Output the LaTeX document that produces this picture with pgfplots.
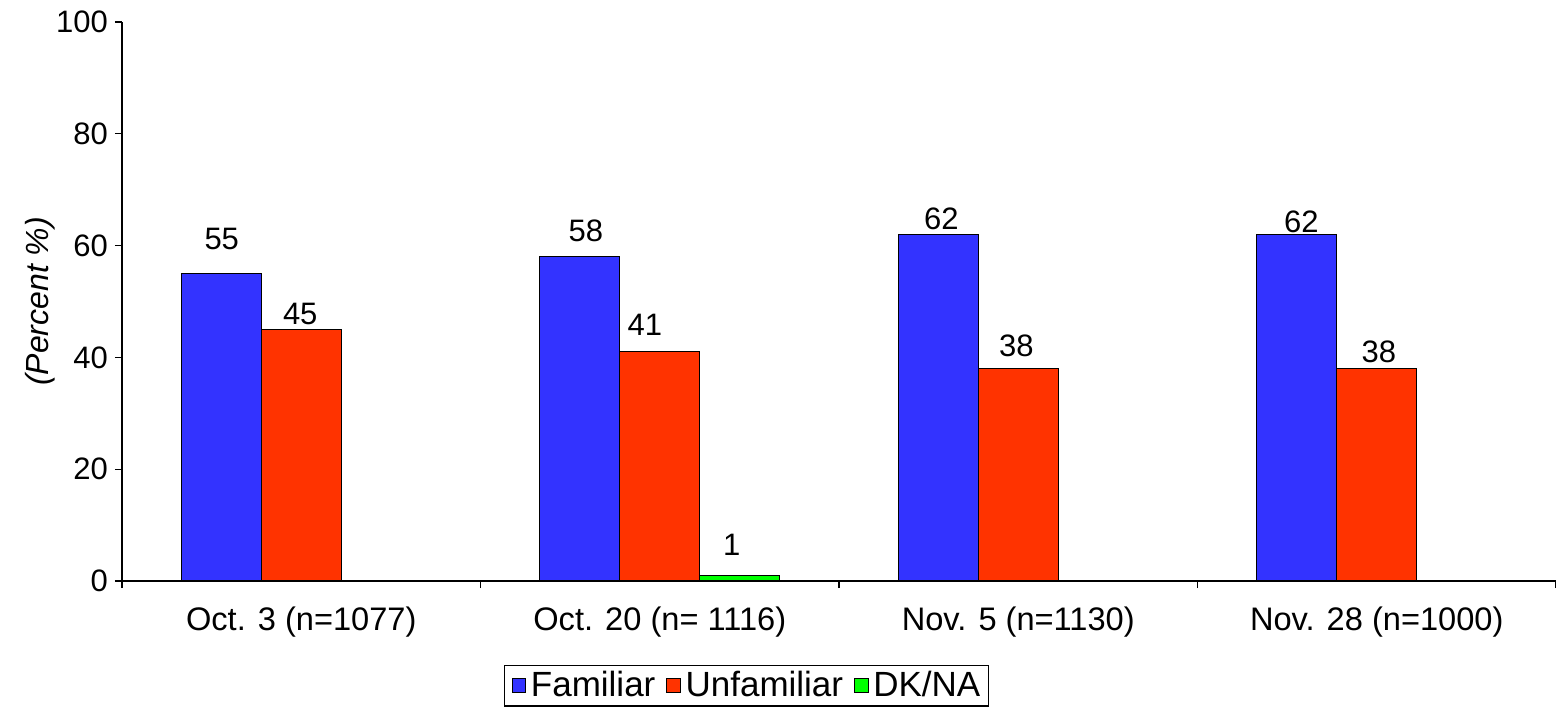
\documentclass[border=0pt]{standalone}
\usepackage{fontspec}
\setmainfont{Liberation Sans}
\usepackage{pgfplots}
\usepackage{pgfplotstable}
\pgfplotsset{compat=1.18}
\pgfkeys{/pgf/number format/assume math mode=true}
\definecolor{cfam}{HTML}{3333FF}
\definecolor{cunf}{HTML}{FF3300}
\definecolor{cdk}{HTML}{00FF00}

\pgfplotstableread{
x y dx dy
0 55 0.25 12
1 58 3 7.5
2 62 1.5 2.5
3 62 2.25 1
}\famtable
\pgfplotstableread{
x y dx dy
0 45 -0.5 2.5
1 41 -7.5 8
2 38 -1 6
3 38 1 3
}\unftable
\pgfplotstableread{
x y dx dy
1 1 -4 10
}\dktable

\begin{document}
\begin{tikzpicture}
\begin{axis}[name=ax, scale only axis, width=717pt, height=279.5pt,
  xmin=-0.5, xmax=3.5, ymin=0, ymax=100,
  axis x line=bottom, axis y line=left,
  axis line style={-, line width=0.6pt},
  every tick/.style={black, line width=0.6pt},
  tick align=outside, major tick length=3.5pt,
  ytick={0,20,...,100},
  xtick={-0.5,0.5,1.5,2.5,3.5},
  xticklabels={Oct. 3 (n=1077), Oct. 20 (n= 1116), Nov. 5 (n=1130), Nov. 28 (n=1000), {}},
  xticklabel style={xshift=89.625pt, yshift=-6pt, font=\fontsize{16.3}{19}\selectfont},
  yticklabel style={font=\fontsize{15.5}{18}\selectfont},
  ylabel={\itshape (Percent \%)},
  ylabel style={at={(axis description cs:-0.0572,0.5)}, anchor=center, font=\fontsize{16}{19}\selectfont},
  ybar, bar width=40pt,
  legend style={at={(axis description cs:0.4355,-0.2245)}, anchor=south, legend columns=-1,
    draw=black, line width=0.6pt, font=\fontsize{17.5}{20}\selectfont, inner xsep=3.6pt, inner ysep=1pt,
    nodes={inner xsep=0.5pt, inner ysep=2pt},
    /tikz/every odd column/.append style={column sep=1.8pt},
    /tikz/every even column/.append style={column sep=5pt}},
  legend image code/.code={\draw[#1, line width=0.5pt] (0pt,-3.4pt) rectangle (6.8pt,3.4pt);},
  nodes near coords,
  every node near coord/.append style={font=\fontsize{15.5}{18}\selectfont, anchor=base, xshift=\dx pt, yshift=\dy pt},
  visualization depends on={\thisrow{dx} \as \dx},
  visualization depends on={\thisrow{dy} \as \dy},
]
\addplot[fill=cfam, draw=black, line width=0.6pt, bar shift=-40pt] table[x=x, y=y] {\famtable};
\addlegendentry{Familiar}
\addplot[fill=cunf, draw=black, line width=0.6pt, bar shift=0pt] table[x=x, y=y] {\unftable};
\addlegendentry{Unfamiliar}
\addplot[fill=cdk, draw=black, line width=0.6pt, bar shift=40pt] table[x=x, y=y] {\dktable};
\addlegendentry{DK/NA}
\end{axis}
\pgfresetboundingbox
\path[use as bounding box] ([xshift=-61pt,yshift=-63.5pt]ax.south west) rectangle ([yshift=11pt]ax.north east);
\end{tikzpicture}
\end{document}
